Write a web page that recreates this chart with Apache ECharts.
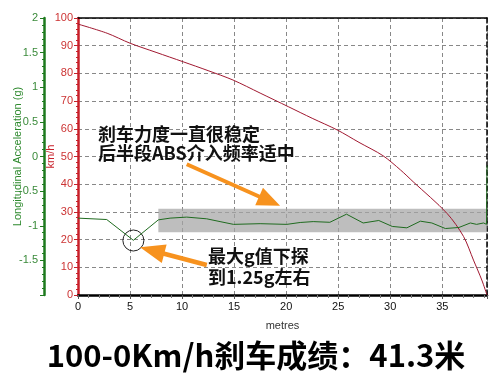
<!DOCTYPE html>
<html><head><meta charset="utf-8">
<script src="https://cdn.jsdelivr.net/npm/echarts@6/dist/echarts.min.js"></script>
<style>html,body{margin:0;padding:0;background:#fff}#c{width:500px;height:385px}</style>
</head><body><div id="c"></div>
<script>
// Speed trace (km/h) vs distance (m)
const speedDist = [0, 2.8, 5, 7.5, 10.1, 12.5, 14.9, 17.5, 20.2, 22.5, 24.9, 27, 29.3, 31, 32.2, 35.45, 37.05, 38, 38.8, 39.3];
const speedKmh  = [97.8, 94.5, 90.9, 87.6, 84.2, 81, 77.6, 72.9, 68, 63.8, 59.6, 55.1, 50.3, 45.1, 40.9, 29.5, 21.1, 12.6, 5.4, 0];
// Longitudinal acceleration (g) vs distance (m)
const accDist = [0, 2.76, 5.32, 7.72, 8.85, 10.45, 12.37, 13.65, 14.94, 17.5, 20.06, 21.35, 22.6, 24.2, 25.8, 27.4, 28.9, 30.2, 31.6, 32.9, 34.0, 35.3, 36.6, 37.7, 38.3, 38.97, 39.25, 39.3];
const accG    = [-0.89, -0.91, -1.21, -0.915, -0.89, -0.875, -0.90, -0.94, -0.98, -0.97, -0.98, -0.953, -0.94, -0.95, -0.833, -0.96, -0.924, -1.01, -1.03, -0.934, -0.96, -1.04, -1.025, -0.96, -0.98, -0.96, -0.98, -0.13];
// Annotations (data coordinates)
const stableBand = {x0: 7.72, x1: 39.3, g0: -0.755, g1: -1.093};
const peakPoint = [5.32, -1.213];
const arrow1 = {from: [10.45, 47.2], to: [19.42, 32.2]};
const arrow2 = {from: [12.375, 10.83], to: [5.96, 17.2]};
const note1 = ['刹车力度一直很稳定', '后半段ABS介入频率适中'];
const note2 = ['最大g值下探', '到1.25g左右'];
const titleText = '100-0Km/h刹车成绩：41.3米';
const xTicks = {min: 0, max: 39.3, interval: 5};

const RED = '#c8202a', GREEN = '#1e7a1e', ORANGE = '#f7921e';
const FONT = 'Liberation Sans';
const CJK = '"Noto Sans CJK SC"';

const chart = echarts.init(document.getElementById('c'), null, {renderer: 'canvas'});
chart.setOption({
  backgroundColor: '#fff',
  animation: false,
  grid: {left: 78, right: 13, top: 18, bottom: 90, containLabel: false, outerBoundsMode: 'none'},
  xAxis: [{
    type: 'value', min: xTicks.min, max: xTicks.max, interval: xTicks.interval,
    name: 'metres', nameLocation: 'middle', nameGap: 25, nameMoveOverlap: false,
    nameTextStyle: {color: '#333', fontSize: 11, fontFamily: FONT},
    axisLine: {onZero: false, lineStyle: {color: '#000', width: 2.5}},
    axisTick: {show: true, length: 4, lineStyle: {color: '#555'}},
    minorTick: {show: true, splitNumber: 5, length: 3, lineStyle: {color: '#777'}},
    axisLabel: {color: '#111', fontSize: 11, fontFamily: FONT, margin: 6, showMaxLabel: false},
    splitLine: {show: true, lineStyle: {color: '#888', type: [4, 3], width: 1}}
  }, {
    type: 'value', position: 'top', min: xTicks.min, max: xTicks.max,
    axisLine: {show: true, onZero: false, lineStyle: {color: '#000', width: 1.5}},
    axisTick: {show: false}, axisLabel: {show: false}, splitLine: {show: false}
  }],
  yAxis: [{
    type: 'value', position: 'left', min: 0, max: 100, interval: 10,
    name: 'km/h', nameLocation: 'middle', nameGap: 22, nameRotate: 90, nameMoveOverlap: false,
    nameTextStyle: {color: RED, fontSize: 11, fontFamily: FONT},
    axisLine: {show: true, onZero: false, lineStyle: {color: RED, width: 2.5}},
    axisTick: {show: true, length: 4, lineStyle: {color: RED}},
    minorTick: {show: true, splitNumber: 5, length: 2, lineStyle: {color: RED}},
    axisLabel: {color: '#cc3333', fontSize: 11, fontFamily: FONT, margin: 5},
    splitLine: {show: true, lineStyle: {color: '#888', type: [4, 3], width: 1}}
  }, {
    type: 'value', position: 'left', offset: 34, min: -2, max: 2, interval: 0.5,
    name: 'Longitudinal Acceleration (g)', nameLocation: 'middle', nameGap: 21, nameRotate: 90, nameMoveOverlap: false,
    nameTextStyle: {color: '#2f8a2f', fontSize: 11, fontFamily: FONT},
    axisLine: {show: true, onZero: false, lineStyle: {color: GREEN, width: 2.5}},
    axisTick: {show: true, length: 4, lineStyle: {color: GREEN}},
    minorTick: {show: true, splitNumber: 5, length: 2, lineStyle: {color: GREEN}},
    axisLabel: {color: '#3a8a3a', fontSize: 11, fontFamily: FONT, margin: 6,
      formatter: v => (v === -2 ? '' : String(v))},
    splitLine: {show: false}
  }, {
    type: 'value', position: 'right', min: 0, max: 100,
    axisLine: {show: true, onZero: false, lineStyle: {color: '#000', width: 1.5, type: [5, 3]}},
    axisTick: {show: false}, axisLabel: {show: false}, splitLine: {show: false}
  }],
  series: [{
    type: 'line', name: 'speed', xAxisIndex: 0, yAxisIndex: 0,
    data: speedDist.map((d, i) => [d, speedKmh[i]]),
    showSymbol: false, smooth: 0.3,
    lineStyle: {color: '#a01830', width: 1}, z: 4
  }, {
    type: 'line', name: 'acc', xAxisIndex: 0, yAxisIndex: 1,
    data: accDist.map((d, i) => [d, accG[i]]),
    showSymbol: false, smooth: false,
    lineStyle: {color: '#1f6b1f', width: 1}, z: 5,
    markArea: {
      silent: true,
      itemStyle: {color: 'rgba(165,165,165,0.72)'},
      data: [[{coord: [stableBand.x0, stableBand.g0]}, {coord: [stableBand.x1, stableBand.g1]}]]
    },
    markPoint: {
      silent: true,
      symbol: 'circle', symbolSize: 21,
      itemStyle: {color: 'rgba(0,0,0,0)', borderColor: '#222', borderWidth: 1},
      label: {show: false},
      data: [{coord: peakPoint}]
    }
  }]
});

function arrowPoly(p1, p2, w, L, H) {
  const dx = p2[0] - p1[0], dy = p2[1] - p1[1];
  const len = Math.hypot(dx, dy);
  const ux = dx / len, uy = dy / len, nx = -uy, ny = ux;
  const bx = p2[0] - ux * L, by = p2[1] - uy * L;
  return [
    [p1[0] + nx * w / 2, p1[1] + ny * w / 2],
    [bx + nx * w / 2, by + ny * w / 2],
    [bx + nx * H / 2, by + ny * H / 2],
    [p2[0], p2[1]],
    [bx - nx * H / 2, by - ny * H / 2],
    [bx - nx * w / 2, by - ny * w / 2],
    [p1[0] - nx * w / 2, p1[1] - ny * w / 2]
  ];
}
const px = c => chart.convertToPixel({xAxisIndex: 0, yAxisIndex: 0}, c);
const a1 = arrowPoly(px(arrow1.from), px(arrow1.to), 4, 23, 19);
const a2 = arrowPoly(px(arrow2.from), px(arrow2.to), 4.5, 25, 19);

const bold18 = 'bold 18px ' + CJK;
chart.setOption({
  graphic: [
    {type: 'polygon', shape: {points: a1}, style: {fill: ORANGE}, z: 20},
    {type: 'polygon', shape: {points: a2}, style: {fill: ORANGE}, z: 20},
    {type: 'text', x: 98, y: 134, style: {text: note1[0], font: bold18, fill: '#111', verticalAlign: 'middle'}, z: 21},
    {type: 'text', x: 98, y: 153, style: {text: note1[1], font: bold18, fill: '#111', verticalAlign: 'middle'}, z: 21},
    {type: 'text', x: 208, y: 256, style: {text: note2[0], font: bold18, fill: '#111', verticalAlign: 'middle'}, z: 21},
    {type: 'text', x: 208, y: 277, style: {text: note2[1], font: bold18, fill: '#111', verticalAlign: 'middle'}, z: 21},
    {type: 'text', x: 256, y: 355, style: {text: titleText, font: 'bold 31px ' + CJK, fill: '#000', align: 'center', verticalAlign: 'middle'}, z: 21}
  ]
});
</script></body></html>
